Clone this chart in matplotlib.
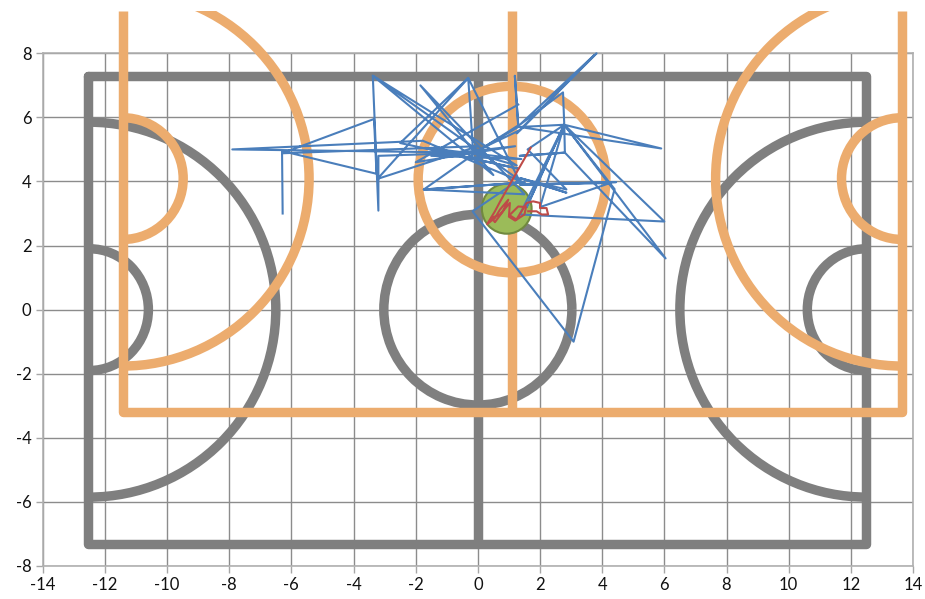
import matplotlib
matplotlib.use("Agg")
import matplotlib.pyplot as plt
from matplotlib.patches import Arc, Ellipse, Rectangle

plt.rcParams["font.family"] = ["Lato", "DejaVu Sans"]
plt.rcParams["axes.unicode_minus"] = False

GREY = "#7f7f7f"
ORANGE = "#ecac6e"
BLUE = "#4a7ebb"
RED = "#be4b48"

# === court outlines
court_x = [-12.55, 12.5, 12.5, -12.55, -12.55]
court_y = [7.3, 7.3, -7.3, -7.3, 7.3]
midline_x = [0, 0]
midline_y = [7.3, -7.3]

shift_frame_x = [-11.43, -11.43, 13.65, 13.65]
shift_frame_y = [9.33, -3.18, -3.18, 9.33]
shift_mid_x = [1.09, 1.09]
shift_mid_y = [9.33, -3.18]

# centre x, centre y, width, height, start angle, end angle
grey_arcs = [
    (0, 0, 6.05, 5.95, 0, 360),
    (-12.5, 0, 12.0, 11.7, -90, 90),
    (12.5, 0, 12.0, 11.7, 90, 270),
    (-12.5, 0, 3.8, 3.8, -90, 90),
    (12.5, 0, 3.8, 3.8, 90, 270),
]
orange_arcs = [
    (1.1, 4.06, 6.04, 5.82, 0, 360),
    (-11.43, 4.09, 12.0, 11.7, -90, 90),
    (13.65, 4.09, 12.0, 11.7, 90, 270),
    (-11.43, 4.09, 3.9, 3.8, -90, 90),
    (13.65, 4.09, 3.9, 3.8, 90, 270),
]

# === ball
ball_x, ball_y = 0.93, 3.15
ball_w, ball_h = 1.6, 1.56

# === tracks
blue_x = [-6.28, -6.3, -3.26, -3.34, -6.3, 0.0, -3.23, -0.31, -0.15, -3.2, -3.2, -3.38,
          1.25, -0.2, -7.9, -1.77, 1.4, -3.38, 0.5, -1.85, 1.5, -1.74, 1.5, -1.74, 0.16,
          1.3, 1.19, 1.3, 0.16, 1.35, 3.82, 1.25, 3.75, 1.35, 2.74, 2.78, 5.9, 1.35, 2.78,
          2.8, 1.35, 2.8, 6.04, 2.78, 6.0, 1.35, 2.78, 1.57, 2.78, 4.4, 3.08, -0.17, 1.4,
          2.85, 1.35, 2.85, 1.6, 2.78, 2.0, 4.25, 1.35, 4.45, 1.4, -0.31, -2.5, 1.3, -1.7,
          1.4, -1.5, 1.2, -2.0, 1.3]
blue_y = [3.0, 4.95, 4.24, 5.95, 4.88, 5.1, 4.08, 7.23, 4.9, 4.8, 3.09, 7.3,
          4.5, 4.9, 5.0, 5.27, 4.0, 7.3, 4.2, 7.0, 3.6, 3.75, 3.97, 3.75, 5.05,
          5.7, 7.3, 5.75, 5.05, 5.6, 8.0, 5.5, 7.95, 5.77, 6.78, 5.77, 5.03, 5.7, 5.77,
          4.9, 4.8, 4.9, 1.6, 5.77, 2.75, 2.97, 5.77, 3.2, 5.77, 3.76, -1.0, 3.07, 4.1,
          3.65, 4.1, 3.75, 5.0, 5.77, 3.2, 3.95, 3.9, 3.98, 3.9, 7.23, 5.2, 4.4, 5.05,
          4.7, 4.8, 5.1, 4.6, 6.4]

red_x = [1.70, 1.05, 0.72, 0.55, 0.30, 0.55, 0.71, 0.98, 0.81, 0.55, 0.44, 0.71, 1.03, 1.00, 1.2,
         1.5, 1.55, 1.3, 1.02, 1.24, 1.57, 1.78, 2.0, 2.0, 2.21, 2.26, 2.05, 1.89, 1.62]
red_y = [5.05, 3.95, 3.38, 3.07, 2.67, 2.86, 3.12, 3.43, 3.07, 2.73, 2.86, 2.97, 3.33, 2.9, 2.78,
         2.97, 3.2, 3.22, 2.95, 2.81, 3.33, 3.38, 3.33, 3.17, 3.17, 2.97, 2.97, 3.07, 3.07]

ticks_x = list(range(-14, 15, 2))
ticks_y = list(range(-8, 9, 2))

fig = plt.figure(figsize=(9.25, 5.99), dpi=100)
ax = fig.add_axes([42.7 / 925, 33 / 599, 870.3 / 925, 512.7 / 599])
ax.set_xlim(-14, 14)
ax.set_ylim(-8, 8)
ax.set_xticks(ticks_x)
ax.set_yticks(ticks_y)
ax.grid(True, color="#8c8c8c", lw=1.0)
ax.set_axisbelow(True)
ax.tick_params(length=5, width=1, color="#a6a6a6", labelsize=12, labelcolor="#111111", pad=3)
for s in ax.spines.values():
    s.set_color("#b0b0b0")
    s.set_linewidth(1.2)

# orange goes above the plot area and stops at the top of the picture
clip = Rectangle((-20, -12), 40, 21.33, transform=ax.transData)

def draw_arc(spec, color, z, clipped):
    cx, cy, w, h, a0, a1 = spec
    arc = Arc((cx, cy), w, h, theta1=a0, theta2=a1, color=color, lw=6.8, zorder=z)
    ax.add_patch(arc)
    if clipped:
        arc.set_clip_path(clip)

for spec in grey_arcs:
    draw_arc(spec, GREY, 3, False)
ax.plot(court_x, court_y, color=GREY, lw=6.8, solid_joinstyle="round", solid_capstyle="round", zorder=3)
ax.plot(midline_x, midline_y, color=GREY, lw=6.8, solid_capstyle="butt", zorder=3)

for spec in orange_arcs:
    draw_arc(spec, ORANGE, 4, True)
for xs, ys in [(shift_frame_x, shift_frame_y), (shift_mid_x, shift_mid_y)]:
    line, = ax.plot(xs, ys, color=ORANGE, lw=6.8, solid_joinstyle="round", solid_capstyle="butt", zorder=4)
    line.set_clip_path(clip)

ax.add_patch(Ellipse((ball_x, ball_y), ball_w, ball_h, facecolor="#9bbb59", edgecolor="#71893f", lw=1.5, zorder=5))
ax.plot(blue_x, blue_y, color=BLUE, lw=1.5, zorder=6, clip_on=False)
ax.plot(red_x, red_y, color=RED, lw=1.5, zorder=7)

fig.savefig("out.png", dpi=100)
